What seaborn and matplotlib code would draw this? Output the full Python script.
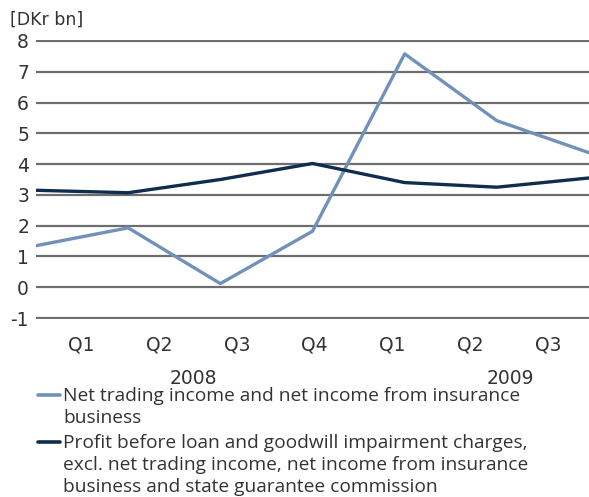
import numpy as np
import pandas as pd
import seaborn as sns
from matplotlib import pyplot as plt
from matplotlib import transforms
from matplotlib.lines import Line2D

# data (DKr bn)
quarters = [0, 1, 2, 3, 4, 5, 6]
net_trading = [1.35, 1.93, 0.12, 1.82, 7.58, 5.41, 4.37]
profit_before = [3.15, 3.07, 3.5, 4.02, 3.4, 3.25, 3.55]
q_labels = ["Q1", "Q2", "Q3", "Q4", "Q1", "Q2", "Q3"]
years = ["2008", "2009"]

name_a = "Net trading income and net income from insurance\nbusiness"
name_b = ("Profit before loan and goodwill impairment charges,\n"
          "excl. net trading income, net income from insurance\n"
          "business and state guarantee commission")

df = pd.DataFrame({
    "quarter": quarters * 2,
    "value": net_trading + profit_before,
    "series": [name_a] * len(quarters) + [name_b] * len(quarters),
})

sns.set_style("white")
plt.rcParams['font.family'] = ['DejaVu Sans']
plt.rcParams['axes.unicode_minus'] = False

fig = plt.figure(figsize=(5.89, 4.97), dpi=100)
ax = fig.add_axes([36 / 589, 1 - 319 / 497, 1 - 36 / 589, 279 / 497])

palette = {name_a: "#7191bb", name_b: "#0f2d4d"}
sns.lineplot(data=df, x="quarter", y="value", hue="series", palette=palette,
             linewidth=2.4, ax=ax, legend=False, zorder=3)

ax.set_xlim(0, 6)
ax.set_ylim(-1.03, 8.03)
ax.set_yticks(range(-1, 9))
ax.yaxis.grid(True, color="#6e6e6e", linewidth=1.6, zorder=1)
ax.xaxis.grid(False)
for s in ax.spines.values():
    s.set_visible(False)
ax.tick_params(axis="y", length=0, pad=5, labelsize=13.5, labelcolor="#333333")
ax.set_xticks([0.49 + 0.845 * i for i in range(len(q_labels))])
ax.set_xticklabels(q_labels)
ax.tick_params(axis="x", length=0, pad=12, labelsize=13.5, labelcolor="#333333")
ax.set_xlabel("")
ax.set_ylabel("")

trans = transforms.blended_transform_factory(ax.transData, fig.transFigure)
for xp, yr in zip([1.71, 5.15], years):
    ax.text(xp, 1 - 379 / 497, yr, transform=trans, ha="center", va="center",
            fontsize=13.5, color="#333333")

fig.text(10 / 589, 1 - 20 / 497, "[DKr bn]", ha="left", va="center",
         fontsize=12.5, color="#333333")

# legend: coloured dash + wrapped label, baselines ~22 px apart
legend_items = [(name_a, palette[name_a], 401), (name_b, palette[name_b], 448)]
for label, col, base in legend_items:
    fig.add_artist(Line2D([38 / 589, 60 / 589], [1 - (base - 6) / 497] * 2,
                          color=col, linewidth=2.6,
                          transform=fig.transFigure))
    for k, line in enumerate(label.split("\n")):
        fig.text(63 / 589, 1 - (base + 22 * k) / 497, line, ha="left",
                 va="baseline", fontsize=13.8, color="#333333",
                 family=["Open Sans", "DejaVu Sans"])

fig.savefig("out.png", dpi=100)
